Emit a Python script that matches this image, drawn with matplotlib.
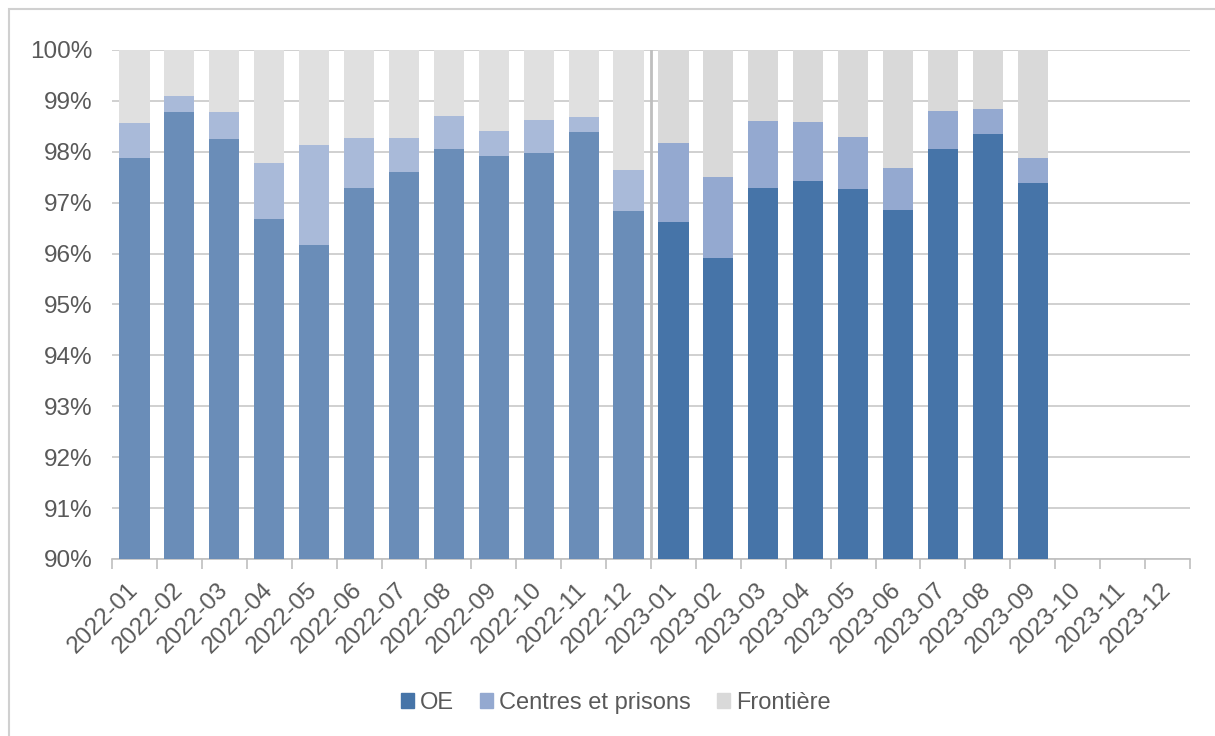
import numpy as np
import matplotlib.pyplot as plt
from matplotlib.patches import Rectangle

plt.rcParams['font.family'] = ['Liberation Sans', 'DejaVu Sans']

# mois affichés sur l'axe
months = ['2022-01', '2022-02', '2022-03', '2022-04', '2022-05', '2022-06',
          '2022-07', '2022-08', '2022-09', '2022-10', '2022-11', '2022-12',
          '2023-01', '2023-02', '2023-03', '2023-04', '2023-05', '2023-06',
          '2023-07', '2023-08', '2023-09', '2023-10', '2023-11', '2023-12']

# part OE (en %)
oe = [97.88, 98.78, 98.25, 96.67, 96.17, 97.29, 97.61, 98.05, 97.91, 97.97, 98.38, 96.84,
      96.63, 95.92, 97.28, 97.42, 97.26, 96.85, 98.05, 98.34, 97.39]
# part centres et prisons (en %)
centres = [0.68, 0.31, 0.53, 1.11, 1.96, 0.99, 0.67, 0.65, 0.50, 0.65, 0.30, 0.80,
           1.54, 1.58, 1.33, 1.17, 1.04, 0.83, 0.75, 0.50, 0.49]
# part frontière (en %)
frontiere = [1.44, 0.91, 1.22, 2.22, 1.87, 1.72, 1.72, 1.30, 1.59, 1.38, 1.32, 2.36,
             1.83, 2.50, 1.39, 1.41, 1.70, 2.32, 1.20, 1.16, 2.12]

oe = np.array(oe) / 100
centres = np.array(centres) / 100
frontiere = np.array(frontiere) / 100
n = len(oe)
x = np.arange(n)
is_2023 = np.array([m.startswith('2023') for m in months[:n]])

# couleurs : 2022 plus pâle, 2023 pleine
col_oe = np.where(is_2023, '#4674A8', '#6A8DB8')
col_ce = np.where(is_2023, '#94A9D0', '#A9BAD9')
col_fr = np.where(is_2023, '#D9D9D9', '#E0E0E0')

fig = plt.figure(figsize=(12.15, 7.36), dpi=100)
ax = fig.add_axes([0.0922, 0.2405, 0.8872, 0.6916])

w = 0.67
ax.bar(x, oe, w, color=col_oe, zorder=3)
ax.bar(x, centres, w, bottom=oe, color=col_ce, zorder=3)
ax.bar(x, frontiere, w, bottom=oe + centres, color=col_fr, zorder=3)

ax.set_ylim(0.90, 1.00)
ax.set_xlim(-0.5, len(months) - 0.5)
ax.set_yticks(np.arange(0.90, 1.0001, 0.01))
ax.set_yticklabels([f'{v:.0f}%' for v in np.arange(90, 101, 1)])
ax.yaxis.grid(True, color='#C8C8C8', linewidth=1.2, zorder=0)

# séparation entre les deux années
ax.axvline(11.5, color='#BFBFBF', linewidth=2, zorder=4)

ax.set_xticks(np.arange(len(months)))
ax.set_xticklabels(months, rotation=45, ha='right', va='center', rotation_mode='anchor')
ax.set_xticks(np.arange(-0.5, len(months), 1), minor=True)
ax.tick_params(axis='x', which='major', length=0, pad=20, labelsize=17.5, labelcolor='#595959')
ax.tick_params(axis='x', which='minor', length=7, color='#BFBFBF', width=1.2)
ax.tick_params(axis='y', length=0, pad=14, labelsize=17.5, labelcolor='#595959')

for s in ['left', 'right', 'top']:
    ax.spines[s].set_visible(False)
ax.spines['bottom'].set_color('#BFBFBF')
ax.spines['bottom'].set_linewidth(1.2)

fig.legend(handles=[Rectangle((0, 0), 1, 1, color='#4674A8'),
                    Rectangle((0, 0), 1, 1, color='#94A9D0'),
                    Rectangle((0, 0), 1, 1, color='#D9D9D9')],
           labels=['OE', 'Centres et prisons', 'Frontière'],
           loc='center', bbox_to_anchor=(0.507, 0.045), ncol=3,
           frameon=False, fontsize=17, handlelength=0.55, handleheight=0.55,
           handletextpad=0.25, columnspacing=1.1, labelcolor='#595959')

# bordure du graphique
fig.patches.append(Rectangle((9 / 1215, -0.1), 1.2, 1.1 - 9 / 736, transform=fig.transFigure,
                             fill=False, edgecolor='#D0D0D0', linewidth=1.5))

fig.savefig('out.png', dpi=100)
